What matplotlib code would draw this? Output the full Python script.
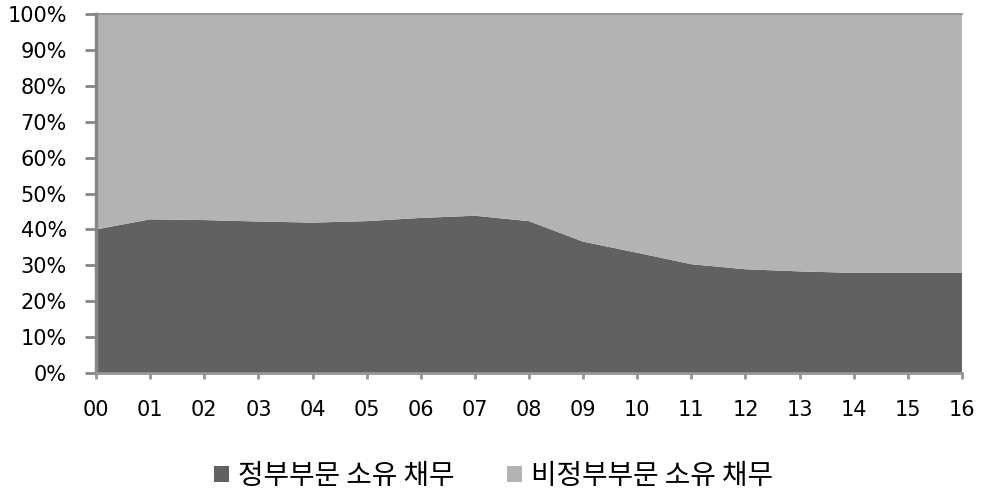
import matplotlib.pyplot as plt
import numpy as np

years = ['00', '01', '02', '03', '04', '05', '06', '07', '08',
         '09', '10', '11', '12', '13', '14', '15', '16']
gov_share = [40.0, 42.8, 42.6, 42.2, 41.9, 42.3, 43.2, 43.8, 42.3,
             36.6, 33.5, 30.3, 28.9, 28.3, 27.9, 27.9, 27.9]
non_gov_share = [100 - v for v in gov_share]
labels = ['정부부문 소유 채무', '비정부부문 소유 채무']

fig = plt.figure(figsize=(9.81, 4.93), dpi=100)
ax = fig.add_axes([0.0979, 0.2434, 0.8827, 0.7282])

x = np.arange(len(years))
ax.stackplot(x, gov_share, non_gov_share, colors=['#616161', '#b3b3b3'],
             labels=labels, linewidth=0)

ax.set_xlim(0, len(years) - 1)
ax.set_ylim(0, 100)
ax.set_yticks(np.arange(0, 101, 10))
ax.set_yticklabels([f'{v}%' for v in range(0, 101, 10)])
ax.set_xticks(x)
ax.set_xticklabels(years)

ax.spines['right'].set_visible(False)
ax.spines['top'].set_color('#8c8c8c')
ax.spines['top'].set_linewidth(1.2)
ax.spines['left'].set_color('#868686')
ax.spines['left'].set_linewidth(2.5)
ax.spines['bottom'].set_color('#969696')
ax.spines['bottom'].set_linewidth(2)
ax.tick_params(axis='y', length=8, width=2, color='#868686', labelsize=15, pad=13)
ax.tick_params(axis='x', length=4.5, width=2, color='#969696', labelsize=15, pad=15)

fig.legend(loc='center', bbox_to_anchor=(0.503, 0.035), ncol=2, frameon=False,
           prop={'family': ['Noto Sans CJK KR', 'DejaVu Sans'], 'size': 20},
           handlelength=0.54, handleheight=0.54, handletextpad=0.32,
           columnspacing=1.9, borderpad=0, borderaxespad=0)

fig.savefig('out.png', dpi=100)
